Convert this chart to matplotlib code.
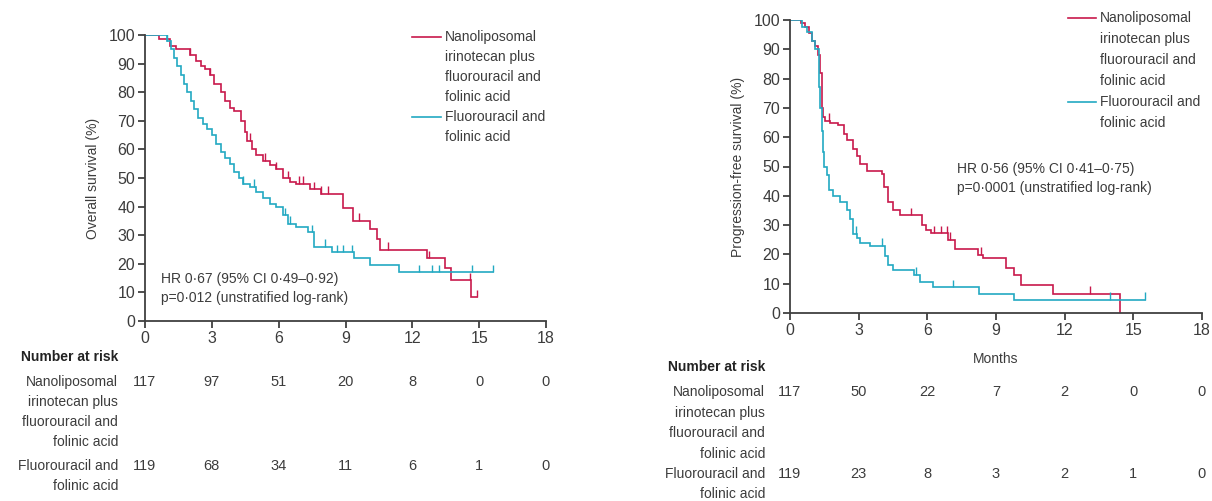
import numpy as np
import matplotlib
matplotlib.use("Agg")
import matplotlib.pyplot as plt
import matplotlib.transforms as mtransforms

plt.rcParams['font.family'] = ['Liberation Sans Narrow', 'Liberation Sans', 'DejaVu Sans']

RED = "#c8194c"
BLUE = "#22a9c2"
INK = "#3c3c3c"

group_labels = ["Nanoliposomal\nirinotecan plus\nfluorouracil and\nfolinic acid",
                "Fluorouracil and\nfolinic acid"]
months_ticks = [0, 3, 6, 9, 12, 15, 18]

# overall survival, step curves (months, %)
os_red_t = [0, 0.65, 1.1, 1.4, 2.0, 2.3, 2.5, 2.7, 2.9, 3.1, 3.4, 3.6, 3.8, 4.0, 4.3, 4.5, 4.6,
            4.8, 5.0, 5.3, 5.6, 5.9, 6.2, 6.5, 6.8, 7.4, 7.9, 8.9, 9.33, 10.1, 10.4, 10.55,
            12.65, 13.45, 13.75, 14.65, 14.9]
os_red_s = [100, 98.5, 96, 95, 93, 91, 89, 88, 86, 83, 80, 77, 74.5, 73.5, 70, 66, 63,
            60, 58, 56, 54.5, 53, 50, 48.5, 48, 46, 44.5, 39.5, 35, 32, 28.5, 25,
            22, 18.5, 14.3, 8.4, 8.4]
os_blue_t = [0, 1.0, 1.15, 1.3, 1.45, 1.6, 1.75, 1.9, 2.05, 2.2, 2.4, 2.6, 2.8, 3.0, 3.2, 3.4,
             3.6, 3.8, 4.0, 4.2, 4.4, 4.7, 5.0, 5.3, 5.6, 5.9, 6.2, 6.4, 6.8, 7.3, 7.6, 8.4,
             9.4, 10.1, 11.4, 15.6]
os_blue_s = [100, 98, 95, 92, 89, 86, 83, 80, 77, 74, 71, 69, 67, 65, 62, 59,
             57, 55, 52, 50, 48, 47, 45, 43, 41, 40, 37, 34, 33, 31, 26, 24,
             22, 19.5, 17, 17]
os_red_cens = [2.0, 2.9, 4.7, 5.4, 5.9, 6.4, 6.9, 7.1, 7.6, 7.9, 8.2, 9.6, 10.9, 12.75, 14.6, 14.9]
os_blue_cens = [0.4, 1.0, 4.4, 4.9, 6.3, 6.5, 7.5, 8.1, 8.6, 8.9, 9.3, 12.3, 12.9, 13.2, 14.7, 15.6]

# progression-free survival
pfs_red_t = [0, 0.46, 0.65, 0.82, 0.97, 1.1, 1.22, 1.33, 1.4, 1.45, 1.55, 1.75, 2.1, 2.34, 2.5,
             2.77, 2.92, 3.06, 3.35, 4.0, 4.1, 4.3, 4.5, 4.8, 5.75, 5.96, 6.18, 6.9, 7.2, 8.2,
             8.43, 9.45, 9.8, 10.1, 11.5, 14.4]
pfs_red_s = [100, 99, 97.5, 95.5, 93, 91, 88, 82, 70, 67, 65.5, 65, 64, 61, 59,
             56, 53.5, 51, 48.5, 47.5, 43, 38, 35, 33.4, 30, 28.3, 27.2, 25, 22, 19.8,
             18.7, 15.2, 13, 9.6, 6.5, 0]
pfs_blue_t = [0, 0.53, 0.75, 0.97, 1.1, 1.26, 1.33, 1.4, 1.45, 1.5, 1.6, 1.7, 1.9, 2.2, 2.5,
              2.63, 2.77, 2.92, 3.06, 3.5, 4.15, 4.3, 4.5, 5.4, 5.66, 6.24, 8.25, 9.8, 15.5]
pfs_blue_s = [100, 97.5, 96, 93, 90, 77, 70, 62, 55, 50, 47, 42, 40, 38, 35,
              32, 27, 25.5, 24, 23, 19.5, 16.5, 14.7, 13, 10.7, 8.8, 6.5, 4.4, 4.4]
pfs_red_cens = [1.7, 5.3, 6.3, 6.6, 6.85, 7.0, 8.35, 13.1]
pfs_blue_cens = [2.9, 4.0, 5.5, 7.1, 14.0, 15.5]

os_risk_red = [117, 97, 51, 20, 8, 0, 0]
os_risk_blue = [119, 68, 34, 11, 6, 1, 0]
pfs_risk_red = [117, 50, 22, 7, 2, 0, 0]
pfs_risk_blue = [119, 23, 8, 3, 2, 1, 0]


def step_at(t, s, x):
    i = np.searchsorted(t, x, side="right") - 1
    return s[max(i, 0)]


def km(ax, t, s, cens, color):
    ax.step(t, s, where="post", color=color, lw=1.2, solid_joinstyle="miter")
    ys = [step_at(t, s, c) for c in cens]
    ax.vlines(cens, ys, np.array(ys) + 2.6, color=color, lw=1.0)


def style_axes(ax, ylabel):
    ax.set_xlim(0, 18)
    ax.set_ylim(0, 100)
    for sp in ["top", "right"]:
        ax.spines[sp].set_visible(False)
    for sp in ["left", "bottom"]:
        ax.spines[sp].set_color("#404040")
        ax.spines[sp].set_linewidth(1.3)
    ax.set_xticks(months_ticks)
    ax.set_yticks(range(0, 101, 10))
    ax.tick_params(direction="out", length=5, width=1.3, color="#404040",
                   labelsize=11.5, labelcolor=INK, pad=2)
    ax.set_ylabel(ylabel, fontsize=10, color=INK, labelpad=6)


def legend(fig, x_line, x_text, y_top, dy):
    lines = ["Nanoliposomal", "irinotecan plus", "fluorouracil and", "folinic acid",
             "Fluorouracil and", "folinic acid"]
    for i, ln in enumerate(lines):
        fig.text(x_text / 1212, 1 - (y_top + i * dy) / 501, ln, fontsize=10,
                 color=INK, va="center", ha="left")
    for row, c in [(0, RED), (4, BLUE)]:
        y = 1 - (y_top + row * dy) / 501
        fig.add_artist(plt.Line2D([x_line / 1212, (x_text - 4) / 1212], [y, y],
                                  color=c, lw=1.2))


def risk_table(fig, ax, x_lab, y_head, y_red, y_blue, dy, red, blue):
    fig.text(x_lab / 1212, 1 - y_head / 501, "Number at risk", fontsize=10,
             fontweight="bold", color="#222222", ha="right", va="center")
    trans = mtransforms.blended_transform_factory(ax.transData, fig.transFigure)
    for y0, label in [(y_red, group_labels[0]), (y_blue, group_labels[1])]:
        for i, ln in enumerate(label.split("\n")):
            fig.text(x_lab / 1212, 1 - (y0 + i * dy) / 501, ln,
                     fontsize=10, color=INK, ha="right", va="center")
    for vals, y0 in [(red, y_red), (blue, y_blue)]:
        for m, v in zip(months_ticks, vals):
            ax.text(m, 1 - y0 / 501, str(v), transform=trans, fontsize=10.5, color=INK,
                    ha="center", va="center", clip_on=False)


fig = plt.figure(figsize=(12.12, 5.01), dpi=100, facecolor="white")

ax1 = fig.add_axes([145 / 1212, 1 - 321 / 501, 401 / 1212, 286 / 501])
km(ax1, os_red_t, os_red_s, os_red_cens, RED)
km(ax1, os_blue_t, os_blue_s, os_blue_cens, BLUE)
style_axes(ax1, "Overall survival (%)")
ax1.text(0.7, 11.5, "HR 0·67 (95% CI 0·49–0·92)\np=0·012 (unstratified log-rank)",
         fontsize=10, color=INK, ha="left", va="center", linespacing=1.45)

ax2 = fig.add_axes([790 / 1212, 1 - 313 / 501, 412 / 1212, 293 / 501])
km(ax2, pfs_red_t, pfs_red_s, pfs_red_cens, RED)
km(ax2, pfs_blue_t, pfs_blue_s, pfs_blue_cens, BLUE)
style_axes(ax2, "Progression-free survival (%)")
ax2.set_xlabel("Months", fontsize=10, color=INK, labelpad=10)
ax2.text(7.3, 46, "HR 0·56 (95% CI 0·41–0·75)\np=0·0001 (unstratified log-rank)",
         fontsize=10, color=INK, ha="left", va="center", linespacing=1.45)

legend(fig, 412, 445, 37, 20)
legend(fig, 1068, 1100, 18, 21)

risk_table(fig, ax1, 118, 357, 382, 466, 20, os_risk_red, os_risk_blue)
risk_table(fig, ax2, 765, 367, 392, 474, 20.5, pfs_risk_red, pfs_risk_blue)

fig.savefig("out.png", dpi=100, facecolor="white")
